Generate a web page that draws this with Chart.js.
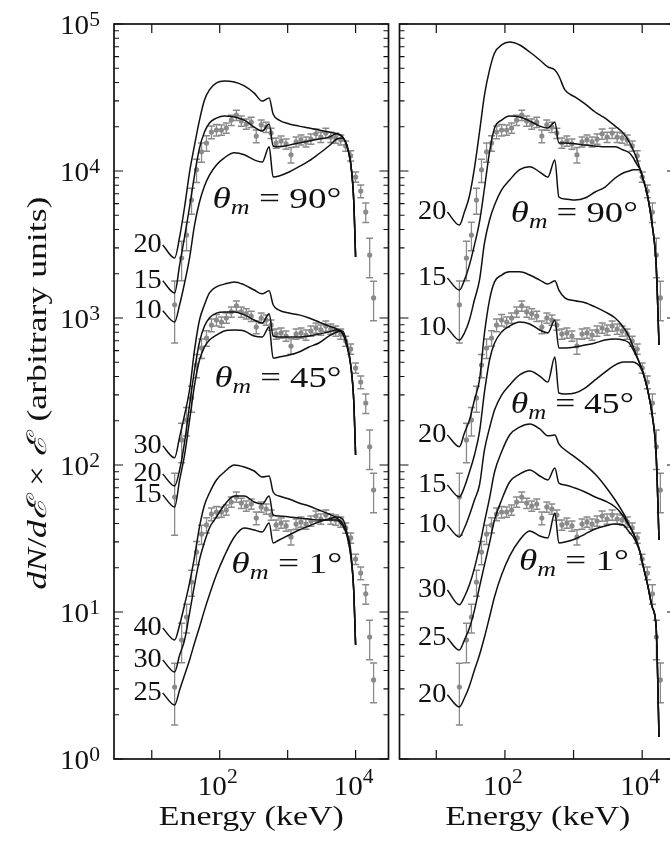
<!DOCTYPE html>
<html lang="en">
<head>
  <meta charset="UTF-8">
  <title>Energy spectra vs model, two panels</title>
  <script src="https://cdn.jsdelivr.net/npm/chart.js"></script>
  <style>
    body {
      margin: 0;
      background: #ffffff;
      overflow: hidden;
    }
    .wrap {
      position: relative;
      width: 670px;
      height: 841px;
      overflow: hidden;
    }
    canvas {
      position: absolute;
      top: 0;
    }
    #leftPanel { left: 0; }
    #rightPanel { left: 394px; }
  </style>
</head>
<body>
  <div class="wrap">
    <canvas id="leftPanel" width="394" height="841"></canvas>
    <canvas id="rightPanel" width="290" height="841"></canvas>
  </div>

  <script>
    // measured spectrum (same points shown in both panels), keV
    const dataEnergy = [21.7, 27.5, 32.5, 38.5, 45.6, 54.0, 63.9, 75.6, 89.5, 106,
      125, 148, 176, 208, 246, 291, 345, 408, 483, 571,
      676, 800, 948, 1120, 1330, 1570, 1860, 2200, 2610, 3080,
      3650, 4320, 5110, 6050, 7160, 8470, 10000, 11900, 14100, 16100, 18400];

    const data90 = [1230, 2560, 3670, 6350, 10200, 13500, 15500, 18400, 19000, 19000,
      19600, 22200, 24000, 21900, 20900, 21500, 17300, 20600, 19900, 18100,
      15500, 16000, 15300, 12900, 15800, 16300, 15800, 16500, 17900, 17000,
      18100, 17000, 16800, 16300, 14800, 12700, 9100, 7310, 5260, 2680, 1370];
    const err90 = [554, 768, 807, 1270, 1840, 2030, 1860, 1840, 1710, 1520,
      1570, 1780, 1920, 1750, 1670, 1720, 1730, 1650, 1590, 1450,
      1240, 1280, 1220, 1550, 1260, 1300, 1260, 1320, 1430, 1360,
      1450, 1360, 1340, 1300, 1180, 1020, 728, 731, 789, 804, 411];

    const data45 = [60.6, 148, 202, 286, 479, 625, 731, 896, 969, 939,
      1000, 1100, 1210, 1100, 1070, 1030, 868, 1000, 969, 896,
      778, 791, 754, 645, 778, 791, 766, 816, 855, 829,
      882, 842, 816, 778, 697, 615, 457, 367, 264, 133, 67.6];
    const err45 = [27.3, 44.4, 44.4, 57.2, 86.2, 93.8, 87.7, 89.6, 87.2, 75.1,
      80, 88, 96.8, 88, 85.6, 82.4, 86.8, 80, 77.5, 71.7,
      62.2, 63.3, 60.3, 77.4, 62.2, 63.3, 61.3, 65.3, 68.4, 66.3,
      70.6, 67.4, 65.3, 62.2, 55.8, 49.2, 36.6, 36.7, 39.6, 39.9, 20.3];

    const data1 = [3.09, 6.45, 9.25, 16.0, 25.6, 33.9, 39.1, 46.4, 47.9, 47.9,
      49.4, 56.0, 60.6, 55.1, 52.6, 54.3, 43.6, 51.8, 50.2, 45.7,
      39.1, 40.3, 38.5, 32.4, 39.7, 41.0, 39.7, 41.6, 45.0, 42.9,
      45.7, 42.9, 42.3, 41.0, 37.3, 31.9, 22.9, 18.4, 13.3, 6.76, 3.45];
    const err1 = [1.39, 1.94, 2.04, 3.2, 4.61, 5.09, 4.69, 4.64, 4.31, 3.83,
      3.95, 4.48, 4.85, 4.41, 4.21, 4.34, 4.36, 4.14, 4.02, 3.66,
      3.13, 3.22, 3.08, 3.89, 3.18, 3.28, 3.18, 3.33, 3.6, 3.43,
      3.66, 3.43, 3.38, 3.28, 2.98, 2.55, 1.83, 1.84, 2.0, 2.03, 1.04];

    // model curves, left panel
    const energyLeft = [14.5, 21.7, 25.7, 30.4, 36.0, 42.6, 50.4, 59.7, 70.6, 89.5,
      117, 164, 230, 322, 422, 534, 611, 748, 1050, 1470,
      2060, 2880, 4040, 5290, 6470, 7410, 8470, 9380, 10000];

    const L90_20 = [3140, 2560, 3560, 5690, 9840, 15000, 22200, 30400, 35600, 39700,
      41000, 40300, 37900, 33900, 29900, 31400, 24400, 22200, 20900, 20200,
      19600, 19000, 18400, 17900, 17000, 15000, 11300, 6350, 2600];
    const L90_15 = [1790, 1480, 2290, 3560, 5690, 9390, 14300, 18400, 21200, 22900,
      23700, 23300, 22200, 19900, 18700, 20900, 14800, 14600, 15000, 15500,
      16000, 16500, 17000, 17900, 17000, 15000, 11300, 6350, 2600];
    const L90_10 = [1120, 939, 1230, 1730, 2560, 4290, 6150, 7910, 9390, 11000,
      12300, 13300, 12900, 11900, 11500, 14600, 9100, 9250, 9840, 10700,
      11700, 13100, 14800, 16500, 16800, 14800, 11200, 6350, 2600];

    const L45_30 = [135, 112, 155, 219, 324, 606, 969, 1230, 1480, 1630,
      1700, 1760, 1680, 1550, 1460, 1530, 1230, 1130, 1080, 1050,
      1000, 939, 882, 842, 791, 655, 479, 277, 117];
    const L45_20 = [86.8, 72.0, 92.5, 143, 256, 443, 687, 882, 1000, 1080,
      1100, 1100, 1050, 969, 925, 1070, 754, 743, 743, 743,
      754, 778, 803, 829, 778, 655, 479, 277, 117];
    const L45_15 = [62.5, 51.8, 79.1, 117, 202, 350, 518, 635, 708, 766,
      816, 829, 816, 754, 743, 868, 534, 543, 560, 587,
      635, 676, 754, 803, 816, 676, 479, 277, 117];

    const L1_40 = [7.78, 6.45, 8.16, 11.2, 15.8, 23.7, 37.9, 53.4, 64.5, 79.1,
      89.6, 100, 96.9, 91.0, 82.9, 84.2, 65.5, 61.5, 58.7, 55.1,
      52.6, 49.4, 46.4, 43.6, 39.7, 34.5, 26.4, 14.1, 5.96];
    const L1_30 = [4.72, 3.91, 5.10, 6.45, 9.84, 15.3, 22.6, 29.9, 37.3, 44.3,
      53.4, 61.5, 61.5, 56.0, 54.3, 61.5, 45.7, 45.0, 44.3, 43.6,
      42.9, 42.3, 42.3, 42.3, 38.5, 33.4, 24.4, 14.1, 5.96];
    const L1_25 = [2.81, 2.33, 2.95, 3.73, 4.72, 6.15, 7.91, 10.3, 13.1, 17.9,
      24.0, 32.4, 37.3, 36.1, 35.0, 40.3, 29.5, 30.9, 33.4, 36.1,
      38.5, 41.0, 42.9, 44.3, 42.9, 35.0, 24.4, 14.1, 5.96];

    // model curves, right panel
    const energyRight = [14.5, 21.7, 25.7, 30.4, 36.0, 42.6, 50.4, 59.7, 70.6, 89.5,
      117, 164, 230, 322, 422, 534, 611, 748, 1050, 1470,
      2060, 2880, 4040, 5290, 6470, 7410, 8470, 9380, 10000, 12000,
      14000, 16000, 17600];

    const R90_20 = [5260, 4290, 5260, 6760, 10500, 18400, 32900, 48700, 63500, 72000,
      75400, 72000, 64500, 56900, 51000, 48700, 44300, 35600, 31900, 28600,
      25200, 22900, 20200, 18100, 15800, 13900, 11900, 10200, 9250, 6760,
      4290, 2290, 655];
    const R90_15 = [1870, 1550, 1810, 2290, 3140, 4500, 7660, 13500, 19600, 22200,
      23700, 23300, 21900, 20200, 19600, 21500, 15500, 15500, 15300, 15000,
      14800, 14600, 14600, 13900, 13300, 12300, 11000, 10200, 9250, 6760,
      4290, 2290, 655];
    const R90_10 = [855, 708, 791, 969, 1330, 1810, 3240, 4640, 5870, 7430,
      8680, 10200, 10700, 9840, 9100, 11900, 6650, 6450, 6350, 6550,
      7200, 7780, 8960, 9690, 10000, 10200, 10200, 10200, 9250, 6760,
      4290, 2290, 655];

    const R45_20 = [160, 133, 165, 202, 277, 379, 791, 1330, 1760, 1960,
      2060, 2060, 1960, 1810, 1700, 1790, 1550, 1370, 1310, 1270,
      1190, 1100, 1000, 868, 743, 635, 543, 479, 443, 324,
      219, 117, 30.9];
    const R45_15 = [73.1, 60.6, 70.8, 89.6, 117, 168, 314, 518, 676, 803,
      882, 939, 910, 829, 791, 969, 625, 625, 635, 655,
      676, 708, 720, 708, 676, 606, 534, 479, 443, 324,
      219, 117, 30.9];
    const R45_10 = [39.1, 32.4, 37.3, 45.7, 57.8, 73.1, 127, 179, 237, 299,
      350, 410, 436, 403, 367, 543, 309, 304, 309, 334,
      379, 429, 479, 502, 502, 502, 487, 464, 443, 324,
      219, 117, 30.9];

    const R1_30 = [14.1, 11.2, 12.7, 15.3, 19.9, 27.7, 41.0, 59.6, 89.6, 123,
      160, 181, 190, 176, 158, 160, 139, 127, 113, 100,
      86.8, 72.0, 57.8, 47.2, 39.1, 34.5, 29.5, 25.2, 21.9, 15.3,
      10.8, 7.78, 1.41];
    const R1_25 = [6.65, 5.51, 6.45, 7.78, 10.3, 14.8, 20.9, 29.5, 42.3, 57.8,
      76.6, 86.8, 92.5, 84.2, 79.1, 95.4, 75.4, 73.1, 69.7, 65.5,
      60.6, 56.9, 51.8, 45.0, 38.5, 34.5, 29.5, 25.2, 21.9, 15.3,
      10.8, 7.78, 1.41];
    const R1_20 = [2.73, 2.26, 2.60, 3.14, 4.03, 5.10, 6.76, 9.25, 12.7, 17.9,
      24.0, 30.9, 35.6, 32.9, 31.9, 47.2, 29.5, 29.9, 31.4, 33.9,
      36.7, 38.5, 39.7, 39.1, 35.0, 32.4, 28.6, 25.2, 21.9, 15.3,
      10.8, 7.78, 1.41];

    // axis ticks (exponents of 10)
    const yTickExp = [0, 1, 2, 3, 4, 5];
    const xTickExp = [1, 2, 3, 4];
    const xLabelExp = [2, 4];

    const SERIF = '"Liberation Serif", "DejaVu Serif", serif';
    const INK = '#111111';
    const GREY = '#8a8a8a';

    // draws a run of text pieces, optionally stretched to a given width
    function drawParts(ctx, parts, x, y, opt) {
      let natural = 0;
      parts.forEach(p => {
        ctx.font = `${p.s || ''} ${p.z}px ${SERIF}`;
        natural += ctx.measureText(p.t).width + (p.gap || 0);
      });
      const sx = opt.width ? opt.width / natural : (opt.sx || 1);
      const total = natural * sx;
      let x0 = x;
      if (opt.align === 'center') x0 = x - total / 2;
      if (opt.align === 'right') x0 = x - total;
      ctx.save();
      ctx.translate(x0, y);
      ctx.scale(sx, 1);
      ctx.textAlign = 'left';
      ctx.textBaseline = 'alphabetic';
      let cx = 0;
      parts.forEach(p => {
        ctx.font = `${p.s || ''} ${p.z}px ${SERIF}`;
        ctx.fillText(p.t, cx, p.dy || 0);
        cx += ctx.measureText(p.t).width + (p.gap || 0);
      });
      ctx.restore();
    }

    const powerParts = e => [{ t: '10', z: 27 }, { t: String(e), z: 20, dy: -8 }];

    const axesPlugin = {
      id: 'axes',
      afterDatasetsDraw(chart, args, o) {
        const { ctx, chartArea: a } = chart;
        const xs = chart.scales.x, ys = chart.scales.y;
        ctx.save();
        ctx.strokeStyle = INK;
        ctx.fillStyle = INK;

        // inward ticks
        ctx.lineWidth = 1.2;
        ctx.beginPath();
        yTickExp.forEach((e, i) => {
          const last = i === yTickExp.length - 1;
          for (let d = 1; d <= (last ? 1 : 9); d++) {
            const py = ys.getPixelForValue(d * Math.pow(10, e));
            const len = d === 1 ? 9 : 5;
            ctx.moveTo(a.left, py); ctx.lineTo(a.left + len, py);
            ctx.moveTo(a.right, py); ctx.lineTo(a.right - len, py);
          }
        });
        xTickExp.forEach(e => {
          const px = xs.getPixelForValue(Math.pow(10, e));
          ctx.moveTo(px, a.bottom); ctx.lineTo(px, a.bottom - 9);
          ctx.moveTo(px, a.top); ctx.lineTo(px, a.top + 9);
        });
        ctx.stroke();

        ctx.lineWidth = 1.7;
        ctx.strokeRect(a.left, a.top, a.right - a.left, a.bottom - a.top);

        // tick labels
        if (o.yLabels) {
          yTickExp.forEach(e => {
            const py = ys.getPixelForValue(Math.pow(10, e));
            drawParts(ctx, powerParts(e), a.left - 14, py + 9.5, { align: 'right', sx: 1.08 });
          });
          ctx.save();
          ctx.translate(46, 393);
          ctx.rotate(-Math.PI / 2);
          drawParts(ctx, [
            { t: 'dN', s: 'italic', z: 27 }, { t: '/', z: 27 }, { t: 'd\u2130', s: 'italic', z: 27, gap: 3 },
            { t: ' \u00d7 ', z: 27 }, { t: '\u2130', s: 'italic', z: 27, gap: 4 },
            { t: ' (arbitrary units)', z: 27 }
          ], 0, 0, { align: 'center', width: 393 });
          ctx.restore();
        }
        xLabelExp.forEach(e => {
          const px = xs.getPixelForValue(Math.pow(10, e));
          drawParts(ctx, [{ t: '10', z: 27 }, { t: String(e), z: 20, dy: -12 }],
            px - 2, a.bottom + 36, { align: 'center', sx: 1.08 });
        });
        drawParts(ctx, [{ t: 'Energy (keV)', z: 27 }], (a.left + a.right) / 2, a.bottom + 66,
          { align: 'center', width: 185 });

        // curve labels at the start of each model curve
        chart.data.datasets.forEach((ds, i) => {
          if (!ds.tag) return;
          const p0 = chart.getDatasetMeta(i).data[0];
          drawParts(ctx, [{ t: ds.tag, z: 27 }], p0.x - 1, p0.y + 7, { align: 'right', sx: 1.05 });
        });

        // angle annotations
        (o.angles || []).forEach(g => {
          const px = xs.getPixelForValue(g.e);
          const py = ys.getPixelForValue(g.v);
          drawParts(ctx, [
            { t: '\u03b8', s: 'italic', z: 30 }, { t: 'm', s: 'italic', z: 21, dy: 6 },
            { t: ' = ', z: 30 }, { t: g.t, z: 30 }
          ], px, py, { align: 'left', width: g.w });
        });
        ctx.restore();
      }
    };

    function curveSet(tag, energies, vals) {
      return {
        tag: tag,
        data: energies.map((e, i) => ({ x: e, y: vals[i] })),
        showLine: true,
        borderColor: INK,
        borderWidth: 1.5,
        pointRadius: 0,
        cubicInterpolationMode: 'monotone',
        order: 0
      };
    }

    function pointSet(vals) {
      return {
        data: dataEnergy.map((e, i) => ({ x: e, y: vals[i] })),
        showLine: false,
        pointRadius: 2.6,
        pointBackgroundColor: GREY,
        pointBorderColor: GREY,
        pointBorderWidth: 0,
        order: 1
      };
    }

    function errorSet(vals, errs) {
      const pts = [];
      dataEnergy.forEach((e, i) => {
        pts.push({ x: e, y: vals[i] - errs[i] }, { x: e, y: vals[i] + errs[i] }, { x: e, y: null });
      });
      return {
        data: pts,
        showLine: true,
        spanGaps: false,
        borderColor: GREY,
        borderWidth: 1.3,
        pointStyle: 'line',
        pointRadius: 3.5,
        pointBorderColor: GREY,
        pointBorderWidth: 1.5,
        order: 2
      };
    }

    function makePanel(id, curves, energies, xMin, xMax, padding, axesOpts) {
      const datasets = [];
      curves.forEach(([tag, vals]) => datasets.push(curveSet(tag, energies, vals)));
      [[data90, err90], [data45, err45], [data1, err1]].forEach(([v, er]) => {
        datasets.push(pointSet(v));
        datasets.push(errorSet(v, er));
      });
      return new Chart(document.getElementById(id), {
        type: 'scatter',
        data: { datasets },
        options: {
          responsive: false,
          animation: false,
          devicePixelRatio: 1,
          layout: { padding },
          scales: {
            x: { type: 'logarithmic', min: xMin, max: xMax, display: false },
            y: { type: 'logarithmic', min: 1, max: 1e5, display: false }
          },
          plugins: {
            legend: { display: false },
            tooltip: { enabled: false },
            axes: axesOpts
          }
        },
        plugins: [axesPlugin]
      });
    }

    makePanel('leftPanel', [
      ['20', L90_20], ['15', L90_15], ['10', L90_10],
      ['30', L45_30], ['20', L45_20], ['15', L45_15],
      ['40', L1_40], ['30', L1_30], ['25', L1_25]
    ], energyLeft, 2.78, 30500, { left: 114, right: 4, top: 24, bottom: 82 }, {
      yLabels: true,
      angles: [
        { e: 78.2, v: 5600, t: '90\u00b0', w: 129 },
        { e: 83.6, v: 339, t: '45\u00b0', w: 127 },
        { e: 148, v: 18.4, t: '1\u00b0', w: 111 }
      ]
    });

    makePanel('rightPanel', [
      ['20', R90_20], ['15', R90_15], ['10', R90_10],
      ['20', R45_20], ['15', R45_15], ['10', R45_10],
      ['30', R1_30], ['25', R1_25], ['20', R1_20]
    ], energyRight, 2.91, 31100, { left: 4, right: 8, top: 24, bottom: 82 }, {
      yLabels: false,
      angles: [
        { e: 122, v: 4500, t: '90\u00b0', w: 127 },
        { e: 122, v: 226, t: '45\u00b0', w: 123 },
        { e: 160, v: 19.3, t: '1\u00b0', w: 110 }
      ]
    });
  </script>
</body>
</html>
